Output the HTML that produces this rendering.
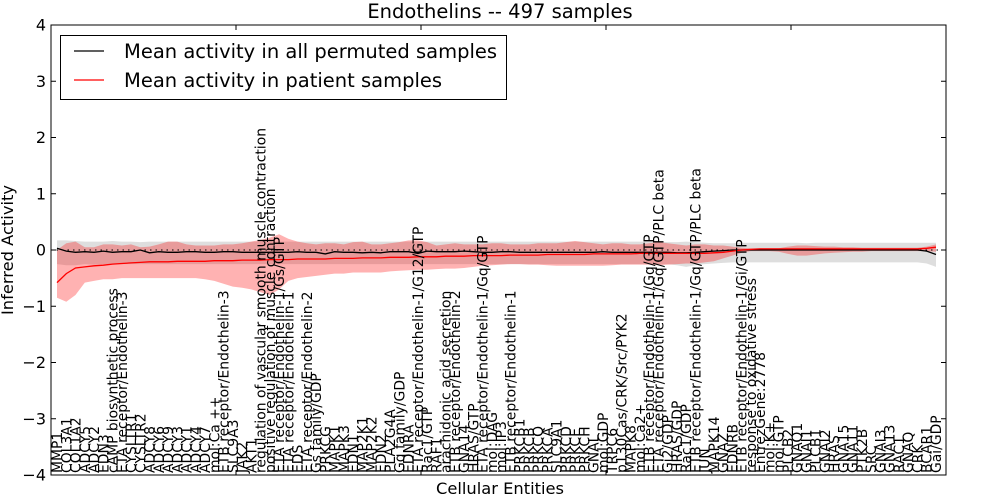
<!DOCTYPE html>
<html><head><meta charset="utf-8"><style>
body{margin:0;background:#fff;}
svg{display:block;font-family:"DejaVu Sans","Liberation Sans",sans-serif;}
</style></head><body>
<svg id="chart" width="1000" height="500" viewBox="0 0 1000 500" xmlns="http://www.w3.org/2000/svg">
<rect width="1000" height="500" fill="#fff"/>
<g id="bands"></g><g id="lines"></g><g id="labels"></g><g id="axes"></g>
</svg>
<script>
const categories = ["MMP1","COL3A1","COL1A2","ADCY5","ADCY2","EDN3","cAMP biosynthetic process","ETA receptor/Endothelin-3","CYSLTR1","CYSLTR2","ADCY8","ADCY6","ADCY9","ADCY3","ADCY1","ADCY4","ADCY7","mol:Ca ++","ETB receptor/Endothelin-3","SLC9A3","JAK2","AKT1","regulation of vascular smooth muscle contraction","positive regulation of muscle contraction","ETA receptor/Endothelin-1/Gs/GTP","ETA receptor/Endothelin-1","EDS","ETA receptor/Endothelin-2","Gs family/GDP","PRKCG","MAPK1","MAPK3","EDN1","MAP2K1","MAP2K2","EDN2","PLA2G4A","Gq family/GDP","EDNRA","ETA receptor/Endothelin-1/G12/GTP","Rac1/GTP","RAF1","arachidonic acid secretion","ETB receptor/Endothelin-2","GNA14","HRAS/GTP","ETA receptor/Endothelin-1/Gq/GTP","mol:DAG","mol:IP3","ETB receptor/Endothelin-1","PRKCB1","PRKCB","PRKCQ","PRKCA","SLC9A1","PRKCD","PRKCE","PRKCH","GNAL","mol:GDP","TRPC6","p130Cas/CRK/Src/PYK2","MAPK8","mol:Ca2+","ETB receptor/Endothelin-1/Gq/GTP","ETA receptor/Endothelin-1/Gq/GTP/PLC beta","Gi2/GDP","HRAS/GDP","Rac1/GDP","ETB receptor/Endothelin-1/Gq/GTP/PLC beta","JUN","MAPK14","GNAZ","EDNRB","ETB receptor/Endothelin-1/Gi/GTP","response to oxidative stress","EntrezGene:2778","mol:K+","mol:GTP","PLCB2","GNAO1","GNAI1","PLCB1","GNAI2","HRAS","GNA15","GNA11","PTK2B","SRC","GNAI3","GNA13","RAC1","GNAQ","CRK","BCAR1","Gai/GDP"];
const patientMean = [-0.58,-0.42,-0.32,-0.3,-0.28,-0.27,-0.25,-0.24,-0.23,-0.22,-0.21,-0.21,-0.21,-0.2,-0.2,-0.2,-0.2,-0.19,-0.19,-0.19,-0.18,-0.18,-0.18,-0.17,-0.17,-0.17,-0.16,-0.16,-0.16,-0.16,-0.15,-0.15,-0.15,-0.14,-0.14,-0.14,-0.13,-0.13,-0.13,-0.12,-0.12,-0.12,-0.11,-0.11,-0.11,-0.1,-0.1,-0.1,-0.1,-0.09,-0.09,-0.09,-0.09,-0.08,-0.08,-0.08,-0.08,-0.08,-0.07,-0.07,-0.07,-0.07,-0.07,-0.06,-0.06,-0.06,-0.06,-0.06,-0.06,-0.06,-0.06,-0.05,-0.04,-0.02,0,0.01,0.02,0.02,0.02,0.02,0.02,0.02,0.02,0.02,0.02,0.02,0.02,0.02,0.02,0.02,0.02,0.02,0.02,0.02,0.03,0.05];
const patientUpper = [0,0.12,0.15,0.05,0.05,0.1,0.1,0.08,0.1,0.05,0.06,0.1,0.15,0.15,0.1,0.08,0.08,0.08,0.1,0.1,0.12,0.15,0.18,0.22,0.28,0.2,0.15,0.12,0.1,0.12,0.12,0.1,0.14,0.15,0.1,0.1,0.12,0.14,0.17,0.17,0.14,0.08,0.1,0.12,0.1,0.1,0.1,0.12,0.12,0.1,0.1,0.1,0.12,0.12,0.12,0.14,0.16,0.14,0.12,0.1,0.12,0.12,0.1,0.1,0.12,0.14,0.12,0.1,0.08,0.1,0.1,0.08,0.08,0.06,0.04,0.03,0.03,0.03,0.03,0.06,0.08,0.08,0.07,0.06,0.06,0.05,0.05,0.04,0.04,0.04,0.04,0.04,0.04,0.04,0.06,0.1];
const patientLower = [-0.85,-0.92,-0.8,-0.58,-0.55,-0.52,-0.52,-0.5,-0.5,-0.5,-0.5,-0.5,-0.5,-0.5,-0.5,-0.5,-0.52,-0.55,-0.6,-0.65,-0.67,-0.7,-0.75,-0.8,-0.7,-0.55,-0.5,-0.48,-0.46,-0.44,-0.42,-0.42,-0.4,-0.4,-0.4,-0.4,-0.38,-0.37,-0.36,-0.35,-0.35,-0.34,-0.33,-0.33,-0.32,-0.3,-0.28,-0.27,-0.26,-0.25,-0.25,-0.26,-0.26,-0.27,-0.28,-0.28,-0.28,-0.28,-0.28,-0.28,-0.27,-0.26,-0.26,-0.26,-0.26,-0.27,-0.26,-0.25,-0.24,-0.24,-0.22,-0.2,-0.15,-0.1,-0.05,-0.02,-0.02,-0.02,-0.03,-0.07,-0.1,-0.1,-0.08,-0.06,-0.05,-0.04,-0.03,-0.03,-0.02,-0.02,-0.02,-0.02,-0.02,-0.02,-0.02,-0.03];
const permMean = [0.03,-0.02,-0.04,-0.03,-0.04,-0.02,-0.04,-0.03,-0.03,0.0,-0.05,-0.03,-0.04,-0.04,-0.03,-0.03,-0.04,-0.04,-0.03,-0.03,-0.04,-0.04,-0.04,-0.04,-0.04,-0.04,-0.03,-0.04,-0.04,-0.07,-0.03,-0.04,-0.04,-0.05,-0.04,-0.05,-0.03,-0.03,-0.03,-0.06,-0.02,-0.03,-0.03,-0.03,-0.02,-0.03,-0.04,-0.04,-0.03,-0.03,-0.04,-0.04,-0.04,-0.04,-0.04,-0.04,-0.04,-0.04,-0.04,-0.03,-0.04,-0.04,-0.04,-0.04,-0.04,-0.04,-0.04,-0.05,-0.05,-0.04,-0.03,-0.02,-0.01,0,0,0,0,0,0,0,0,0,0,0,0,0,0,0,0,0,0,0,0,0,-0.02,-0.08];
const permUpper = [0.17,0.17,0.16,0.15,0.15,0.15,0.16,0.15,0.15,0.14,0.15,0.15,0.15,0.15,0.15,0.15,0.15,0.15,0.15,0.15,0.15,0.15,0.15,0.15,0.15,0.15,0.15,0.15,0.15,0.15,0.15,0.15,0.15,0.15,0.15,0.15,0.15,0.15,0.15,0.15,0.15,0.15,0.15,0.15,0.15,0.15,0.15,0.15,0.15,0.15,0.15,0.15,0.15,0.15,0.15,0.15,0.15,0.15,0.15,0.15,0.15,0.15,0.15,0.15,0.15,0.15,0.14,0.14,0.15,0.14,0.13,0.12,0.12,0.12,0.13,0.13,0.13,0.13,0.13,0.13,0.13,0.12,0.13,0.13,0.13,0.13,0.13,0.13,0.13,0.13,0.13,0.13,0.13,0.13,0.13,0.13];
const permLower = [-0.25,-0.27,-0.27,-0.25,-0.26,-0.25,-0.25,-0.25,-0.25,-0.25,-0.25,-0.25,-0.25,-0.25,-0.25,-0.25,-0.25,-0.25,-0.25,-0.25,-0.25,-0.25,-0.25,-0.25,-0.25,-0.25,-0.25,-0.25,-0.25,-0.25,-0.25,-0.25,-0.25,-0.25,-0.25,-0.25,-0.25,-0.25,-0.25,-0.25,-0.25,-0.25,-0.25,-0.25,-0.25,-0.25,-0.25,-0.25,-0.25,-0.25,-0.25,-0.25,-0.25,-0.25,-0.25,-0.25,-0.25,-0.25,-0.25,-0.25,-0.25,-0.25,-0.25,-0.25,-0.25,-0.25,-0.25,-0.27,-0.3,-0.27,-0.25,-0.24,-0.23,-0.22,-0.22,-0.22,-0.22,-0.22,-0.22,-0.22,-0.22,-0.22,-0.22,-0.22,-0.22,-0.22,-0.22,-0.22,-0.22,-0.22,-0.22,-0.22,-0.22,-0.22,-0.24,-0.3];
const yTicks = [4,3,2,1,0,-1,-2,-3,-4];

const NS="http://www.w3.org/2000/svg";
const L=51,R=946,T=25,B=475;
const x=i=>57+i*(936-57)/(categories.length-1);
const y=v=>T+(4-v)*(B-T)/8;
function mk(tag,attrs,parent){const e=document.createElementNS(NS,tag);for(const k in attrs)e.setAttribute(k,attrs[k]);parent.appendChild(e);return e;}
function band(up,lo){let d="";up.forEach((v,i)=>d+=(i?"L":"M")+x(i).toFixed(1)+","+y(v).toFixed(1));for(let i=lo.length-1;i>=0;i--)d+="L"+x(i).toFixed(1)+","+y(lo[i]).toFixed(1);return d+"Z";}
function line(a){return a.map((v,i)=>(i?"L":"M")+x(i).toFixed(1)+","+y(v).toFixed(1)).join("");}
const bands=document.getElementById("bands"),lines=document.getElementById("lines"),labels=document.getElementById("labels"),axes=document.getElementById("axes");
let e=mk("path",{d:band(permUpper,permLower),fill:"#000",opacity:"0.13"},bands);


e=mk("path",{d:band(patientUpper,patientLower),fill:"#ff0000",opacity:"0.3"},bands);


e=mk("line",{x1:L,x2:R,y1:y(0),y2:y(0),stroke:"#000","stroke-dasharray":"1.5,4"},lines);


e=mk("path",{d:line(permMean),fill:"none",stroke:"#000","stroke-width":"1.3"},lines);


e=mk("path",{d:line(patientMean),fill:"none",stroke:"#ff0000","stroke-width":"1.3"},lines);


categories.forEach((c,i)=>{
  const t=mk("text",{transform:`translate(${(x(i)+5).toFixed(1)},473) rotate(-90)`,"font-size":"13.9",fill:"#000"},labels);
  t.textContent=c;
  
  
});
e=mk("rect",{x:L,y:T,width:R-L,height:B-T,fill:"none",stroke:"#000","stroke-width":"1"},axes);


yTicks.forEach(v=>{
  mk("line",{x1:L,x2:L+5,y1:y(v),y2:y(v),stroke:"#000"},axes);
  mk("line",{x1:R-5,x2:R,y1:y(v),y2:y(v),stroke:"#000"},axes);
  const t=mk("text",{x:L-5,y:y(v)+5.5,"text-anchor":"end","font-size":"16"},axes);
  t.textContent=v<0?"\u2212"+(-v):String(v);
  
  
});
[20,40,60,80].forEach(k=>{const xx=L+k*9.25;mk("line",{x1:xx,x2:xx,y1:T,y2:T+5,stroke:"#000"},axes);mk("line",{x1:xx,x2:xx,y1:B-5,y2:B,stroke:"#000"},axes);});
</script>
<svg style="position:absolute;left:0;top:0" width="1000" height="500" xmlns="http://www.w3.org/2000/svg" font-family="DejaVu Sans, Liberation Sans, sans-serif">
<text x="500" y="18" text-anchor="middle" font-size="19.5">Endothelins -- 497 samples</text>
<text x="500" y="494" text-anchor="middle" font-size="16.3">Cellular Entities</text>
<text transform="translate(13,250) rotate(-90)" text-anchor="middle" font-size="16.3">Inferred Activity</text>
<g>
<rect x="60.5" y="35.5" width="446" height="64" fill="#fff" stroke="#000"/>
<line x1="74" x2="104" y1="51" y2="51" stroke="#000" stroke-width="1.3"/>
<text x="124" y="58" font-size="19.5">Mean activity in all permuted samples</text>
<line x1="74" x2="104" y1="80" y2="80" stroke="#ff0000" stroke-width="1.3"/>
<text x="124" y="87" font-size="19.5">Mean activity in patient samples</text>
</g>
</svg>
</body></html>
